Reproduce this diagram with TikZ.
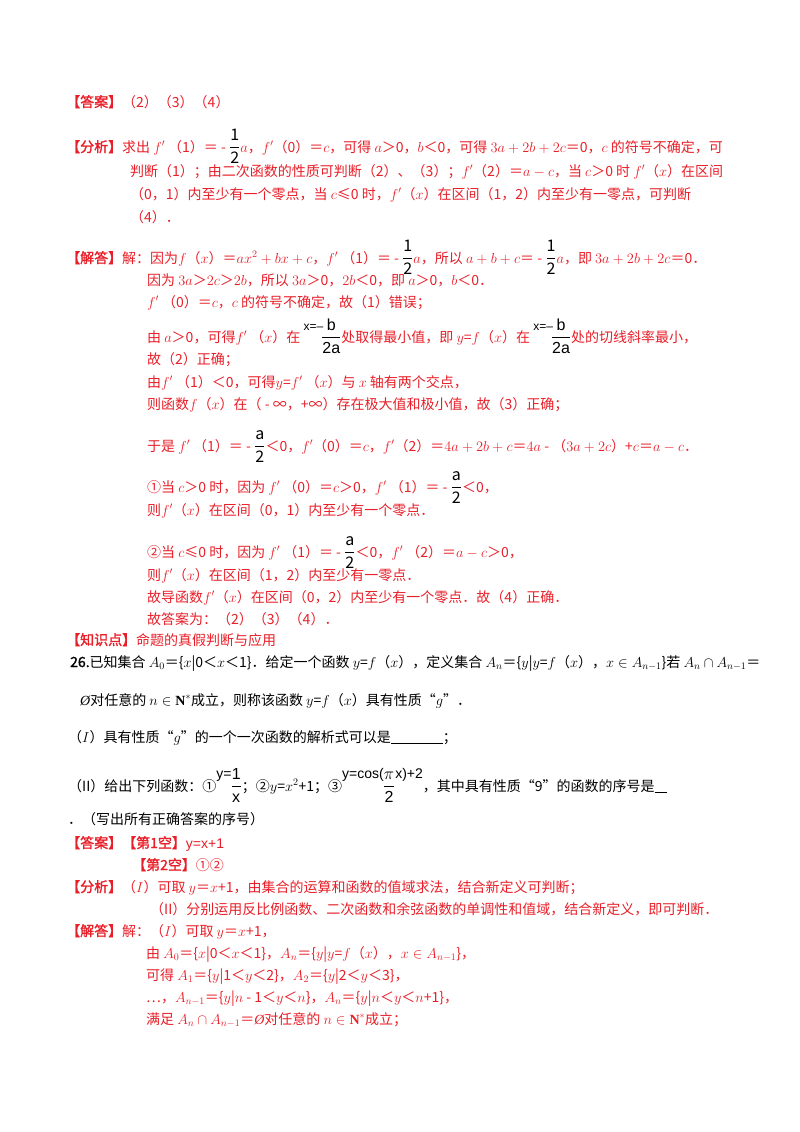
\documentclass[tikz,border=0pt]{standalone}
\usepackage{fontspec}
\setmainfont{Liberation Serif}
\newfontfamily\cjk{Noto Sans CJK SC}
\newfontfamily\cjkb[FakeBold=1.5]{Noto Sans CJK SC}
\newfontfamily\lsans{Liberation Sans}
\definecolor{rd}{RGB}{232,30,40}
\newcommand\lb[1]{{\cjkb 【#1】}}
\newcommand\fr[2]{{\color{black}\fontsize{16}{18}\selectfont\setbox0\hbox{$\displaystyle\frac{\hbox{#1}}{\hbox{#2}}$}\raisebox{\dp0}{\box0}}}
\newcommand\xb{{\color{black}\lsans\fontsize{12}{13}\selectfont\raisebox{1.8ex}{x=–}\kern-2pt\fr{b}{2a}}}
\newcommand\es{{\itshape\rmfamily Ø}}
\begin{document}
\begin{tikzpicture}[x=1pt,y=-1pt,
 t/.style={anchor=base west,inner sep=0,font=\cjk\fontsize{14}{16}\selectfont,text=rd},
 q/.style={t,text=black}]
\useasboundingbox (0,0) rectangle (800,1132);
\node[t] (l1) at (66,107) {\lb{答案}（2）（3）（4）};
\node[t] (l2) at (66,152) {\lb{分析}求出 $f'$ （1）＝ - \fr{1}{2}$a$，$f'$（0）＝$c$，可得 $a$＞0，$b$＜0，可得 $3a+2b+2c$＝0，$c$ 的符号不确定，可};
\node[t] (l3) at (130,176) {判断（1）；由二次函数的性质可判断（2）、（3）；$f'$（2）＝$a-c$，当 $c$＞0 时 $f'$（$x$）在区间};
\node[t] (l4) at (130,199) {（0，1）内至少有一个零点，当 $c$≤0 时，$f'$（$x$）在区间（1，2）内至少有一零点，可判断};
\node[t] (l5) at (130,222) {（4）．};
\node[t] (l6) at (66,263) {\lb{解答}解：因为$f$（$x$）＝$ax^2+bx+c$，$f'$ （1）＝ - \fr{1}{2}$a$，所以 $a+b+c$＝ - \fr{1}{2}$a$，即 $3a+2b+2c$＝0．};
\node[t] (l7) at (147,285) {因为 $3a$＞$2c$＞$2b$，所以 $3a$＞0，$2b$＜0，即 $a$＞0，$b$＜0．};
\node[t] (l8) at (147,307) {$f'$ （0）＝$c$，$c$ 的符号不确定，故（1）错误；};
\node[t] (l9) at (147,342) {由 $a$＞0，可得$f'$ （$x$）在 \xb 处取得最小值，即 $y$=$f$（$x$）在 \xb 处的切线斜率最小，};
\node[t] (l10) at (147,364) {故（2）正确；};
\node[t] (l11) at (147,387) {由$f'$ （1）＜0，可得$y$=$f'$ （$x$）与 $x$ 轴有两个交点，};
\node[t] (l12) at (147,409) {则函数$f$（$x$）在（ - ∞，+∞）存在极大值和极小值，故（3）正确；};
\node[t] (l13) at (147,451) {于是 $f'$ （1）＝ - \fr{a}{2}＜0，$f'$（0）＝$c$，$f'$（2）＝$4a+2b+c$＝$4a$ - （$3a+2c$）+$c$＝$a-c$．};
\node[t] (l14) at (147,492) {①当 $c$＞0 时，因为 $f'$ （0）＝$c$＞0，$f'$ （1）＝ - \fr{a}{2}＜0，};
\node[t] (l15) at (147,515) {则$f'$（$x$）在区间（0，1）内至少有一个零点．};
\node[t] (l16) at (147,557) {②当 $c$≤0 时，因为 $f'$ （1）＝ - \fr{a}{2}＜0，$f'$ （2）＝$a-c$＞0，};
\node[t] (l17) at (147,580) {则$f'$（$x$）在区间（1，2）内至少有一零点．};
\node[t] (l18) at (147,602) {故导函数$f'$（$x$）在区间（0，2）内至少有一个零点．故（4）正确．};
\node[t] (l19) at (147,624) {故答案为：（2）（3）（4）．};
\node[t] (l20) at (66,645) {\lb{知识点}命题的真假判断与应用};
\node[q] (l21) at (70,667) {{\cjkb 26.}已知集合 $A_0$＝\{$x$|0＜$x$＜1\}．给定一个函数 $y$=$f$（$x$），定义集合 $A_n$＝\{$y$|$y$=$f$（$x$），$x\in A_{n-1}$\}若 $A_n\cap A_{n-1}$＝};
\node[q] (l22) at (80,705) {\es 对任意的 $n\in\mathbf{N}^*$成立，则称该函数 $y$=$f$（$x$）具有性质“$g$”．};
\node[q] (l23) at (68,742) {（$I$）具有性质“$g$”的一个一次函数的解析式可以是\underline{\hspace{52pt}}；};
\node[q] (l24) at (68,791) {（II）给出下列函数：①{\lsans\raisebox{1.7ex}{y=}\kern-1pt\fr{1}{x}}；②$y$=$x^2$+1；③{\lsans\raisebox{1.7ex}{y=cos(}\kern-1pt\fr{$\pi$}{2}\raisebox{1.7ex}{x)+2}}，其中具有性质“9”的函数的序号是\underline{\hspace{12pt}}};
\node[q] (l25) at (68,824) {．（写出所有正确答案的序号）};
\node[t] (l26) at (66,848) {\lb{答案}\lb{第1空}{\lsans y=x+1}};
\node[t] (l27) at (132,870) {\lb{第2空}①②};
\node[t] (l28) at (66,892) {\lb{分析}（$I$）可取 $y$＝$x$+1，由集合的运算和函数的值域求法，结合新定义可判断；};
\node[t] (l29) at (150,914) {（II）分别运用反比例函数、二次函数和余弦函数的单调性和值域，结合新定义，即可判断．};
\node[t] (l30) at (66,936) {\lb{解答}解：（$I$）可取 $y$＝$x$+1，};
\node[t] (l31) at (146,958) {由 $A_0$＝\{$x$|0＜$x$＜1\}，$A_n$＝\{$y$|$y$=$f$（$x$），$x\in A_{n-1}$\}，};
\node[t] (l32) at (146,980) {可得 $A_1$＝\{$y$|1＜$y$＜2\}，$A_2$＝\{$y$|2＜$y$＜3\}，};
\node[t] (l33) at (146,1002) {…，$A_{n-1}$＝\{$y$|$n$ - 1＜$y$＜$n$\}，$A_n$＝\{$y$|$n$＜$y$＜$n$+1\}，};
\node[t] (l34) at (146,1024) {满足 $A_n\cap A_{n-1}$＝\es 对任意的 $n\in\mathbf{N}^*$成立；};
\end{tikzpicture}
\end{document}
